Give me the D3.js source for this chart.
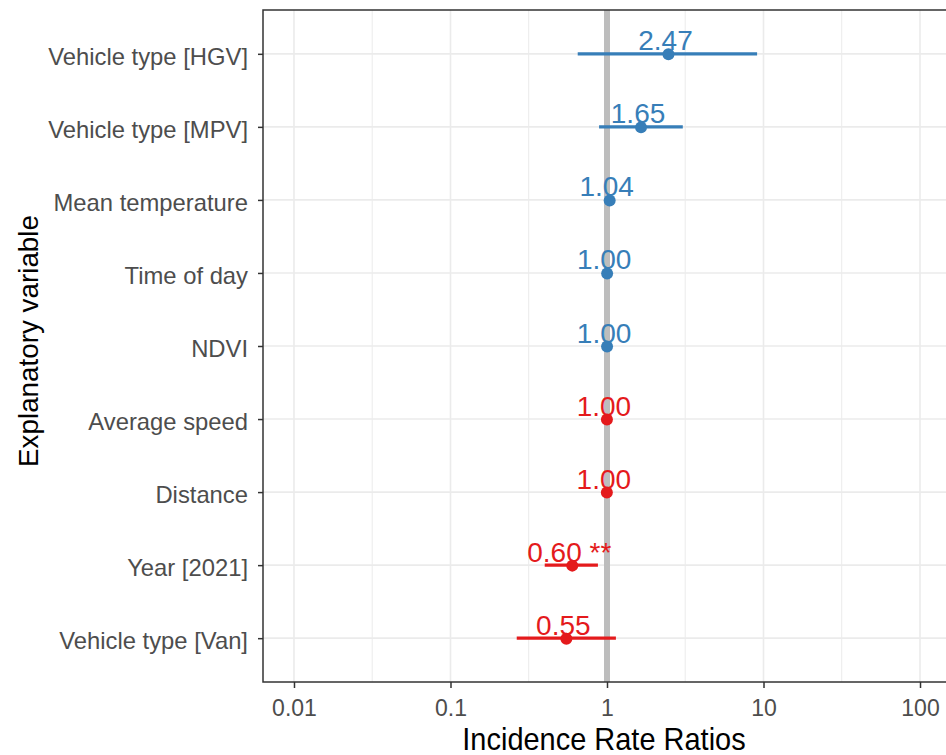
<!DOCTYPE html>
<html>
<head>
<meta charset="utf-8">
<script src="https://cdn.jsdelivr.net/npm/d3@7"></script>
<style>
  html, body { margin: 0; padding: 0; background: #fff; }
  svg { display: block; font-family: "Liberation Sans", Arial, sans-serif; }
</style>
</head>
<body>
<svg id="chart" width="946" height="755"></svg>
<script>
// ---- data ----
const categories = ["Vehicle type [HGV]", "Vehicle type [MPV]", "Mean temperature", "Time of day", "NDVI", "Average speed", "Distance", "Year [2021]", "Vehicle type [Van]"];
const estimates = [2.47, 1.65, 1.04, 1.002, 1.001, 0.999, 0.998, 0.60, 0.55];
const ciLow    = [0.65, 0.89, 1.03, 0.998, 0.998, 0.997, 0.996, 0.40, 0.265];
const ciHigh   = [9.1, 3.05, 1.05, 1.006, 1.004, 1.001, 1.000, 0.875, 1.14];
const valueLabels = ["2.47", "1.65", "1.04", "1.00", "1.00", "1.00", "1.00", "0.60 **", "0.55"];
const direction = ["pos", "pos", "pos", "pos", "pos", "neg", "neg", "neg", "neg"];
const xTicks = [0.01, 0.1, 1, 10, 100];
const xTickLabels = ["0.01", "0.1", "1", "10", "100"];
const xMinor = [0.0316, 0.316, 3.16, 31.6];
const xTitle = "Incidence Rate Ratios";
const yTitle = "Explanatory variable";

const colors = { pos: "#377eb8", neg: "#e41a1c" };

const svg = d3.select("#chart");
const panel = { left: 263, right: 951, top: 10, bottom: 682 };

const x = d3.scaleLog().domain([Math.pow(10, -2.198), Math.pow(10, 2.198)]).range([panel.left, panel.right]);
const y = d3.scalePoint().domain(categories).range([panel.top, panel.bottom]).padding(0.6);

const rows = categories.map((c, i) => ({ cat: c, est: estimates[i], lo: ciLow[i], hi: ciHigh[i], lab: valueLabels[i], dir: direction[i] }));

// panel background
svg.append("rect").attr("x", panel.left).attr("y", panel.top)
  .attr("width", panel.right - panel.left).attr("height", panel.bottom - panel.top)
  .attr("fill", "#fff");

// grid
const g = svg.append("g");
g.selectAll("line.minor").data(xMinor).join("line")
  .attr("x1", d => x(d)).attr("x2", d => x(d))
  .attr("y1", panel.top).attr("y2", panel.bottom)
  .attr("stroke", "#ebebeb").attr("stroke-width", 1);
g.selectAll("line.majx").data(xTicks).join("line")
  .attr("x1", d => x(d)).attr("x2", d => x(d))
  .attr("y1", panel.top).attr("y2", panel.bottom)
  .attr("stroke", "#ebebeb").attr("stroke-width", 1.6);
g.selectAll("line.majy").data(categories).join("line")
  .attr("x1", panel.left).attr("x2", panel.right)
  .attr("y1", d => y(d)).attr("y2", d => y(d))
  .attr("stroke", "#ebebeb").attr("stroke-width", 1.6);

// reference line at 1
svg.append("line")
  .attr("x1", x(1)).attr("x2", x(1))
  .attr("y1", panel.top).attr("y2", panel.bottom)
  .attr("stroke", "#bdbdbd").attr("stroke-width", 6);

// CI lines
svg.append("g").selectAll("line").data(rows).join("line")
  .attr("x1", d => x(d.lo)).attr("x2", d => x(d.hi))
  .attr("y1", d => y(d.cat)).attr("y2", d => y(d.cat))
  .attr("stroke", d => colors[d.dir]).attr("stroke-width", 3.3);

// points
svg.append("g").selectAll("circle").data(rows).join("circle")
  .attr("cx", d => x(d.est)).attr("cy", d => y(d.cat) + 0.5).attr("r", 6)
  .attr("fill", d => colors[d.dir]);

// value labels
svg.append("g").selectAll("text").data(rows).join("text")
  .attr("x", d => x(d.est) - 3).attr("y", d => y(d.cat) - 3.5)
  .attr("text-anchor", "middle")
  .attr("font-size", 28)
  .attr("fill", d => colors[d.dir])
  .text(d => d.lab);

// x axis
const xAxis = d3.axisBottom(x).tickValues(xTicks).tickFormat((d, i) => xTickLabels[i]).tickSize(6).tickPadding(11);
const xg = svg.append("g").attr("transform", `translate(0,${panel.bottom})`).call(xAxis);
xg.select(".domain").remove();
xg.selectAll(".tick line").attr("stroke", "#333333").attr("stroke-width", 1.5);
xg.selectAll(".tick text").attr("fill", "#4d4d4d").attr("font-size", 24.5)
  .attr("font-family", "Liberation Sans, Arial, sans-serif")
  .attr("transform", "scale(0.94,1)");

// y axis
const yAxis = d3.axisLeft(y).tickSize(5).tickPadding(10);
const yg = svg.append("g").attr("transform", `translate(${panel.left},0)`).call(yAxis);
yg.select(".domain").remove();
yg.selectAll(".tick line").attr("stroke", "#333333").attr("stroke-width", 1.5);
yg.selectAll(".tick text").attr("fill", "#4d4d4d").attr("font-size", 23.8)
  .attr("dy", "0.43em")
  .attr("font-family", "Liberation Sans, Arial, sans-serif");

// panel border
svg.append("rect").attr("x", panel.left).attr("y", panel.top)
  .attr("width", panel.right - panel.left).attr("height", panel.bottom - panel.top)
  .attr("fill", "none").attr("stroke", "#333333").attr("stroke-width", 1.5);

// titles
svg.append("text").attr("transform", `translate(${(panel.left + panel.right) / 2 - 3},750) scale(0.95,1)`)
  .attr("text-anchor", "middle").attr("font-size", 30.5).attr("fill", "#000")
  .text(xTitle);
svg.append("text").attr("transform", `translate(38,${(panel.top + panel.bottom) / 2 - 5}) rotate(-90)`)
  .attr("text-anchor", "middle").attr("font-size", 27.8).attr("fill", "#000")
  .text(yTitle);
</script>
</body>
</html>
